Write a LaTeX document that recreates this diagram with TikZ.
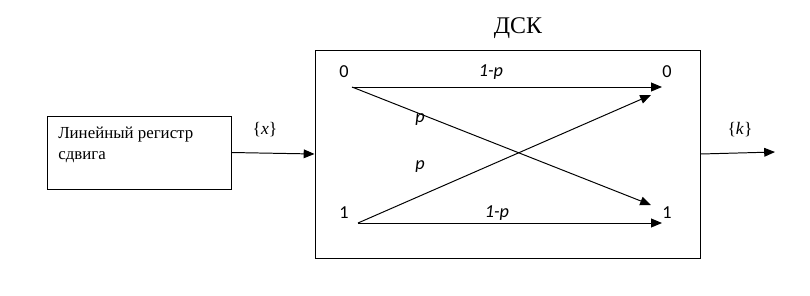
\documentclass[tikz,border=0pt]{standalone}
\usepackage{fontspec}
\setmainfont{Liberation Serif}
\newfontfamily\digitfont{Carlito}
\usetikzlibrary{arrows.meta,positioning}

\begin{document}
\begin{tikzpicture}[
    block/.style={draw, line width=0.7pt, inner sep=0pt},
    arr/.style={-{Triangle[length=2.7mm,width=2.2mm]}, line width=0.7pt},
    sym/.style={font=\digitfont\fontsize{13}{15}\selectfont, inner sep=1pt},
    prob/.style={font=\digitfont\itshape\fontsize{13}{15}\selectfont, inner sep=1pt},
    seq/.style={font=\rmfamily\fontsize{12.5}{14}\selectfont, inner sep=1pt}
]
\useasboundingbox (0,0) rectangle (20.25,7.375);

\node[block, minimum width=4.6cm, minimum height=1.825cm] (reg) at (3.475,3.5625) {};
\node[anchor=north west, align=left, font=\rmfamily\fontsize{12}{15}\selectfont, inner sep=0pt] (regtxt) at (1.45,4.2) {Линейный регистр\\сдвига};
\node[block, minimum width=9.625cm, minimum height=5.2cm] (dsk) at (12.6875,3.525) {};
\node[font=\rmfamily\fontsize{17}{20}\selectfont] (title) at (12.95,6.675) {ДСК};

% входы и выходы канала
\coordinate (in0) at (8.8,5.2);
\coordinate (in1) at (8.95,1.8);
\coordinate (out0) at (16.55,5.2);
\coordinate (out1) at (16.55,1.8);
\coordinate (cross0) at (16.275,5.0);
\coordinate (cross1) at (16.275,2.25);
\coordinate (kend) at (19.375,3.575);

\node[sym] (x0) at (8.6,5.575) {0};
\node[sym] (y0) at (16.675,5.575) {0};
\node[sym] (x1) at (8.6,2.05) {1};
\node[sym] (y1) at (16.675,2.05) {1};

\node[prob] (q0) at (12.275,5.575) {1-p};
\node[prob] (q1) at (12.425,2.05) {1-p};
\node[prob] (p0) at (10.5,4.375) {p};
\node[prob] (p1) at (10.5,3.2) {p};

\node[seq] (xs) at (6.625,4.125) {\{\textit{x}\}};
\node[seq] (ks) at (18.5,4.125) {\{\textit{k}\}};

\draw[arr] (reg.east) -- (dsk.west);
\draw[arr] (dsk.east) -- (kend);
\draw[arr] (in0) -- (out0);
\draw[arr] (in1) -- (out1);
\draw[arr] (in0) -- (cross1);
\draw[arr] (in1) -- (cross0);
\end{tikzpicture}
\end{document}
